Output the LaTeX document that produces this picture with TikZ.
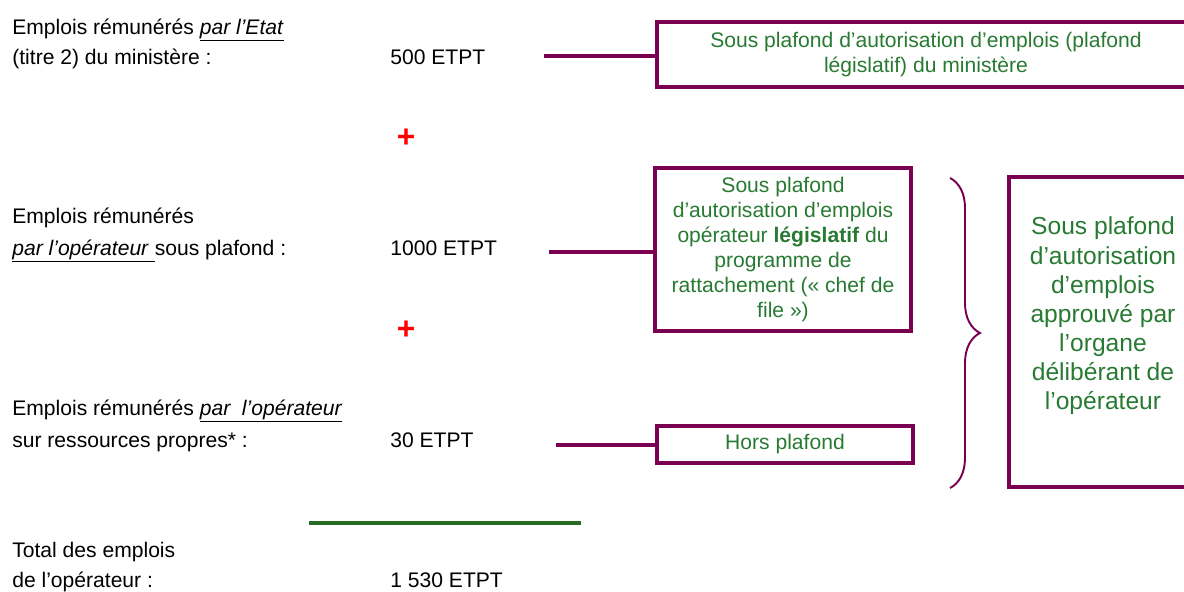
\documentclass[tikz,border=0pt]{standalone}
\usepackage{fontspec}
\setmainfont{Liberation Sans}
\usepackage{tikz}
\usetikzlibrary{decorations.pathreplacing}
\usetikzlibrary{calc}
\definecolor{prune}{RGB}{122,0,82}
\definecolor{vert}{RGB}{40,122,50}
\definecolor{vertfonce}{RGB}{40,108,36}

\begin{document}
\begin{tikzpicture}[
  x=0.02cm,y=-0.02cm,
  lbl/.style={anchor=base west,inner sep=0pt,font=\fontsize{12}{14}\selectfont},
  gbox/.style={draw=prune,line width=2.1pt,text=vert,align=center,inner sep=0pt,
    font=\fontsize{12}{14.2}\selectfont},
  plus/.style={text=red,inner sep=0pt,font=\bfseries\fontsize{18}{18}\selectfont},
  link/.style={draw=prune,line width=2.1pt}
]
  \useasboundingbox (0,0) rectangle (1184,592);

  % colonne de gauche
  \node[lbl] (etat1) at (12,34) {Emplois rémunérés \underline{\textit{par l’Etat}}};
  \node[lbl] (etat2) at (12,64) {(titre 2) du ministère :};
  \node[lbl] (etatv) at (390,64) {500 ETPT};
  \node[plus] (plus1) at (406,138) {+};

  \node[lbl] (op1) at (12,223) {Emplois rémunérés};
  \node[lbl] (op2) at (12,255) {\underline{\textit{par l’opérateur }}sous plafond :};
  \node[lbl] (opv) at (390,255) {1000 ETPT};
  \node[plus] (plus2) at (406,330) {+};

  \node[lbl] (rp1) at (12,415) {Emplois rémunérés \underline{\textit{par\ \ l’opérateur}}};
  \node[lbl] (rp2) at (12,447) {sur ressources propres* :};
  \node[lbl] (rpv) at (390,447) {30 ETPT};

  \coordinate (sumA) at (309,523);
  \coordinate (sumB) at (581,523);
  \draw[vertfonce,line width=2.4pt] (sumA) -- (sumB);

  \node[lbl] (tot1) at (12,557) {Total des emplois};
  \node[lbl] (tot2) at (12,587) {de l’opérateur :};
  \node[lbl] (totv) at (390,587) {1 530 ETPT};

  % cadres
  \node[gbox,minimum width=10.76cm,minimum height=1.3cm] (plafmin) at (926,54.5)
    {Sous plafond d’autorisation d’emplois (plafond\\ législatif) du ministère};
  \node[gbox,minimum width=5.12cm,minimum height=3.26cm] (plafop) at (783,249.5)
    {Sous plafond\\ d’autorisation d’emplois\\ opérateur \textbf{législatif} du\\
     programme de\\ rattachement (« chef de\\ file »)};
  \node[gbox,minimum width=5.12cm,minimum height=0.74cm] (hors) at (785,444.5)
    {Hors plafond};
  \node[gbox,minimum width=3.76cm,minimum height=6.2cm] (organe) at (1103,332) {};
  \node[text=vert,align=center,inner sep=0pt,font=\fontsize{14}{16.6}\selectfont]
    (organetxt) at (1103,316)
    {Sous plafond\\ d’autorisation\\ d’emplois\\ approuvé par\\ l'organe\\
     délibérant de\\ l’opérateur};

  % liaisons
  \coordinate (c1) at (544,56);
  \coordinate (c2) at (549,252);
  \coordinate (c3) at (556,445);
  \draw[link] (c1) -- (c1 -| plafmin.west);
  \draw[link] (c2) -- (c2 -| plafop.west);
  \draw[link] (c3) -- (c3 -| hors.west);

  \coordinate (brtop) at (950,178);
  \coordinate (brbot) at (950,488);
  \draw[prune,line width=1.1pt,decorate,decoration={brace,amplitude=0.6cm}]
    (brtop) -- (brbot);
\end{tikzpicture}
\end{document}
